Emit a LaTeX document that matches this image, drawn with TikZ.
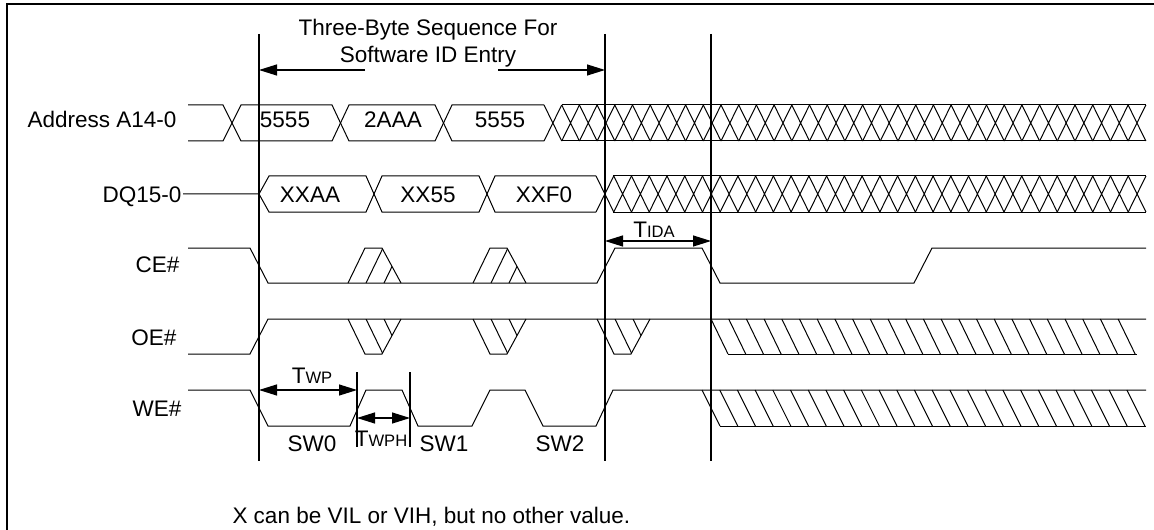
\documentclass[tikz,border=0pt]{standalone}
\usepackage{fontspec}
\setmainfont{Liberation Sans}
\usetikzlibrary{arrows.meta}

\newcommand\tparam[1]{T{\fontsize{8.3pt}{10pt}\selectfont #1}}

\tikzset{
  marker/.style = {line width=0.65pt},
  span/.style = {line width=0.6pt},
  frame/.style = {line width=1pt}
}

\begin{document}
\begin{tikzpicture}[x = 0.5pt, y = -0.5pt, line width = 0.5pt,
    >={Triangle[length=9pt, width=5.5pt]},
    every node/.style = {font=\fontsize{11.25pt}{13.5pt}\selectfont, inner sep=0pt}]
  \useasboundingbox (0,0) rectangle (1154,529);
  \draw[frame] (1160,4) -- (7,4) -- (7,535);
  % timing markers
  \coordinate (v1) at (259,34);
  \coordinate (v2) at (605,34);
  \coordinate (v3) at (711,34);
  \coordinate (twp-end) at (357,372);
  \coordinate (twph-end) at (410,372);
  \draw[marker] (v1) -- ++(0,427);
  \draw[marker] (v2) -- ++(0,427);
  \draw[marker] (v3) -- ++(0,427);
  \draw[marker] (twp-end) -- ++(0,75);
  \draw[marker] (twph-end) -- ++(0,75);
  % sequence title
  \node[anchor=base] (title1) at (428,36) {Three-Byte Sequence For};
  \node[anchor=base] (title2) at (428,63) {Software ID Entry};
  \coordinate (seq-l) at (365,70);
  \coordinate (seq-r) at (498,70);
  \draw[span, ->] (seq-l) -- (seq-l -| v1);
  \draw[span, ->] (seq-r) -- (seq-r -| v2);
  % address
  \begin{scope}[shift = {(0,105)}]
    \node[anchor=base east] (addr-lbl) at (177,23) {Address A14-0};
    \draw (188,0) -- (223,0) -- (241,36) -- (332,36) -- (349,0) -- (435,0) -- (452,36) -- (544,36);
    \draw (188,36) -- (223,36) -- (241,0) -- (332,0) -- (349,36) -- (435,36) -- (452,0) -- (544,0);
    \draw (562,0) -- (1146,0) (562,36) -- (1146,36);
    \foreach \i in {0,...,33}
      \draw (544+\i*17.7,0) -- ++(17.7,36) ++(-17.7,0) -- ++(17.7,-36);
    \node[anchor=base] (addr1) at (285,23) {5555};
    \node[anchor=base] (addr2) at (393,23) {2AAA};
    \node[anchor=base] (addr3) at (500,23) {5555};
  \end{scope}
  % data
  \begin{scope}[shift = {(0,176)}]
    \node[anchor=base east, inner sep=0.5pt] (dq-lbl) at (183,26) {DQ15-0};
    \coordinate (dq-in) at (259,18);
    \draw (dq-lbl.east |- dq-in) -- (dq-in) -- (269,0) -- (366,0) -- (382,36) -- (479,36) -- (495,0) -- (596,0);
    \draw (dq-in) -- (269,36) -- (366,36) -- (382,0) -- (479,0) -- (495,36) -- (596,36);
    \draw (613,0) -- (1146,0) (613,36) -- (1146,36);
    \foreach \i in {0,...,30}
      \draw (596+\i*17.74,0) -- ++(17.74,36) ++(-17.74,0) -- ++(17.74,-36);
    \node[anchor=base] (dq1) at (310,26) {XXAA};
    \node[anchor=base] (dq2) at (428,26) {XX55};
    \node[anchor=base] (dq3) at (544,26) {XXF0};
  \end{scope}
  % chip enable
  \begin{scope}[shift = {(0,248)}]
    \node[anchor=base east] (ce-lbl) at (180,24) {CE\#};
    \draw (188,0) -- (250,0) -- (268,35) -- (597,35) -- (615,0) -- (702,0) -- (720,35) -- (914,35) -- (932,0) -- (1146,0);
    \foreach \g in {348,473} {
      \begin{scope}
        \clip (\g,35) -- (\g+17,0) -- (\g+34,0) -- (\g+53,35) -- cycle;
        \foreach \k in {1,2}
          \draw (\g+\k*18,35) -- ++(17,-35);
      \end{scope}
      \draw (\g,35) -- (\g+17,0) -- (\g+34,0) -- (\g+53,35);
    }
    \coordinate (tida-l) at (605,-7);
    \coordinate (tida-r) at (711,-7);
    \draw[span, <->] (tida-l) -- (tida-r);
    \node[anchor=base] (tida) at (654,-11) {\tparam{IDA}};
  \end{scope}
  % output enable
  \begin{scope}[shift = {(0,319)}]
    \node[anchor=base east] (oe-lbl) at (177,26) {OE\#};
    \draw (188,35) -- (250,35) -- (268,0) -- (1146,0);
    \foreach \g in {348,473,597} {
      \begin{scope}
        \clip (\g,0) -- (\g+17,35) -- (\g+34,35) -- (\g+53,0) -- cycle;
        \foreach \k in {1,2}
          \draw (\g+\k*18,0) -- ++(17,35);
      \end{scope}
      \draw (\g,0) -- (\g+17,35) -- (\g+34,35) -- (\g+53,0);
    }
    \foreach \k in {0,...,23}
      \draw (711+\k*17.7,0) -- ++(17,35);
    \draw (728,35) -- (1137,35);
  \end{scope}
  % write enable
  \begin{scope}[shift = {(0,390)}]
    \node[anchor=base east] (we-lbl) at (182,26) {WE\#};
    \draw (188,0) -- (250,0) -- (268,36) -- (350,36) -- (366,0) -- (402,0) -- (418,36) -- (472,36) -- (490,0) -- (525,0) -- (543,36) -- (596,36) -- (613,0) -- (1146,0);
    \foreach \k in {0,...,24}
      \draw (702+\k*17.7,0) -- ++(18,36);
    \draw (720,36) -- (1146,36);
    \coordinate (twp-l) at (259,0);
    \coordinate (twp-r) at (357,0);
    \coordinate (twph-l) at (357,28);
    \coordinate (twph-r) at (410,28);
    \draw[span, <->] (twp-l) -- (twp-r);
    \draw[span, <->] (twph-l) -- (twph-r);
    \node[anchor=base] (twp) at (312,-7) {\tparam{WP}};
    \node[anchor=base] (twph) at (381,56) {\tparam{WPH}};
    \node[anchor=base] (sw0) at (312,61) {SW0};
    \node[anchor=base] (sw1) at (444,61) {SW1};
    \node[anchor=base] (sw2) at (560,61) {SW2};
  \end{scope}
  \node[anchor=base west] (note) at (232,523) {X can be VIL or VIH, but no other value.};
\end{tikzpicture}
\end{document}
